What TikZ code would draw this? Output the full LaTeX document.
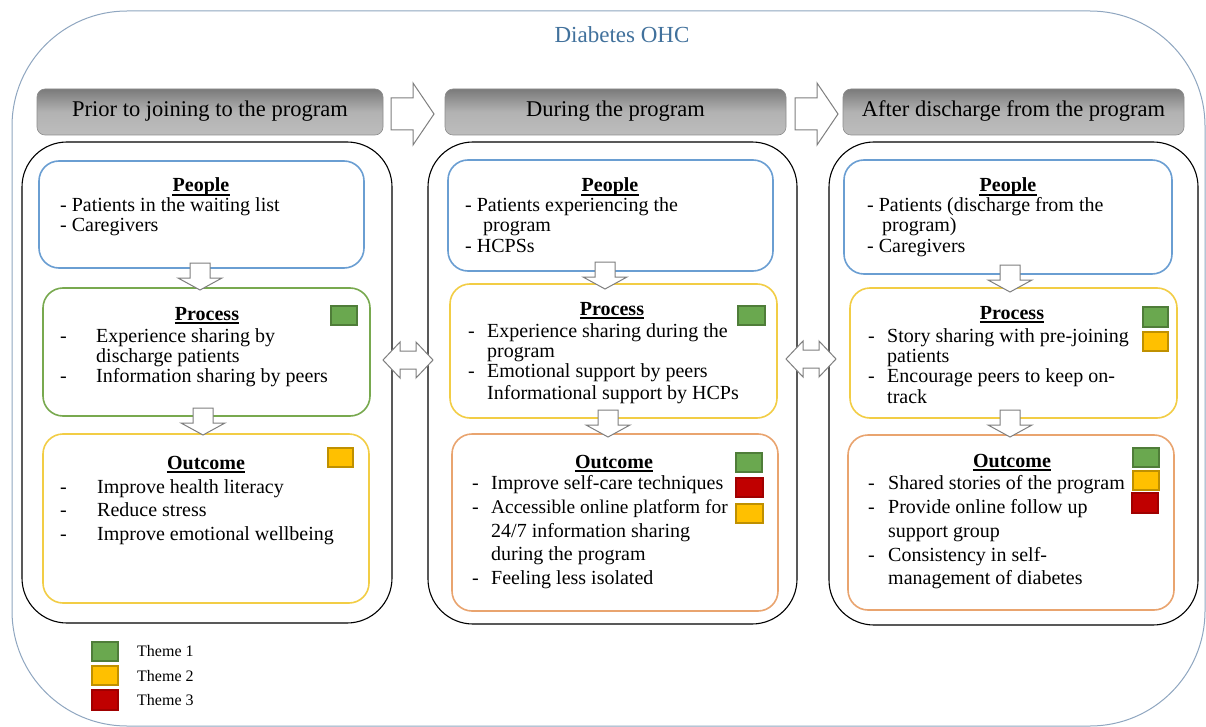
\documentclass[tikz,border=0pt]{standalone}
\usepackage{fontspec}
\setmainfont{Liberation Serif}
\definecolor{frameblue}{HTML}{8FA6C0}
\definecolor{titleblue}{HTML}{41719C}
\definecolor{pblue}{HTML}{6A9ED2}
\definecolor{pgreen}{HTML}{78A94F}
\definecolor{pyellow}{HTML}{F2CD45}
\definecolor{porange}{HTML}{E9A46F}
\definecolor{tgreen}{HTML}{6AA84F}
\definecolor{tgreenb}{HTML}{4F7D39}
\definecolor{tyellow}{HTML}{FFC000}
\definecolor{tyellowb}{HTML}{BF9000}
\definecolor{tred}{HTML}{C00000}
\definecolor{tredb}{HTML}{A00000}
\definecolor{arrgray}{HTML}{7F7F7F}
\tikzset{
  ibox/.style={rounded corners=20pt, line width=1.6pt, fill=white},
  colbox/.style={draw=black, rounded corners=45pt, line width=1.1pt, fill=white},
  hdrbar/.style={rounded corners=8pt, top color=black!52, bottom color=black!26, middle color=black!30, draw=black!45, line width=0.6pt},
  hdrtxt/.style={font=\fontsize{22.5}{26}\selectfont, anchor=base, inner sep=0},
  txt/.style={font=\fontsize{20}{24}\selectfont, anchor=base west, inner sep=0},
  ttl/.style={font=\fontsize{20}{24}\selectfont\bfseries, anchor=base, inner sep=0},
  uline/.style={line width=1.1pt, black},
  sqg/.style={fill=tgreen, draw=tgreenb, line width=1.2pt},
  sqy/.style={fill=tyellow, draw=tyellowb, line width=1.2pt},
  sqr/.style={fill=tred, draw=tredb, line width=1.2pt},
  blk/.style={draw=arrgray, fill=white, line width=1pt, line join=miter},
  rarrow/.pic={\path[blk] (0,-16) -- (22,-16) -- (22,-31) -- (43,0) -- (22,31) -- (22,16) -- (0,16) -- cycle;},
  darrow/.pic={\path[blk] (-25,0) -- (-8,-18) -- (-8,-9) -- (8,-9) -- (8,-18) -- (25,0) -- (8,18) -- (8,9) -- (-8,9) -- (-8,18) -- cycle;},
  downarrow/.pic={\path[blk] (-10,-27) -- (10,-27) -- (10,-12) -- (22,-12) -- (0,0) -- (-22,-12) -- (-10,-12) -- cycle;},
}
\begin{document}
\begin{tikzpicture}[x=1pt,y=-1pt]
\useasboundingbox (0,0) rectangle (1206,727);
% outer frame
\draw[frameblue, line width=1pt, rounded corners=115pt, fill=white] (12,11) rectangle (1205,726);
\node[font=\fontsize{23}{27}\selectfont, text=titleblue, anchor=base, inner sep=0] (title) at (622,43) {Diabetes OHC};

% headers
\path[hdrbar] (37,89) rectangle (383,135);
\path[hdrbar] (445,89) rectangle (786,135);
\path[hdrbar] (843,89) rectangle (1184,135);
\node[hdrtxt] (h1) at (210,117) {Prior to joining to the program};
\node[hdrtxt] (h2) at (615.5,117) {During the program};
\node[hdrtxt] (h3) at (1013.5,117) {After discharge from the program};

% columns
\path[colbox] (22,142) rectangle (392,623);
\path[colbox] (428,142) rectangle (797,624);
\path[colbox] (829,142) rectangle (1198,625);

% column 1
\path[ibox, draw=pblue] (39,161) rectangle (364,268);
\path[ibox, draw=pgreen] (43,288) rectangle (370,416);
\path[ibox, draw=pyellow] (43,434) rectangle (369,603);
% column 2
\path[ibox, draw=pblue] (448,160) rectangle (773,271);
\path[ibox, draw=pyellow] (450,284) rectangle (777,418);
\path[ibox, draw=porange] (452,434) rectangle (778,611);
% column 3
\path[ibox, draw=pblue] (844,160) rectangle (1172,274);
\path[ibox, draw=pyellow] (850,288) rectangle (1177,418);
\path[ibox, draw=porange] (848,435) rectangle (1174,610);

% column 1 texts
\node[ttl] (c1pt) at (201,192) {People};
\node[txt] (c1p1) at (60,212) {- Patients in the waiting list};
\node[txt] (c1p2) at (60,232) {- Caregivers};
\node[ttl] (c1rt) at (207,320) {Process};
\node[txt] (c1rd1) at (60,342) {-};
\node[txt] (c1r1) at (96,342) {Experience sharing by};
\node[txt] (c1r2) at (96,362) {discharge patients};
\node[txt] (c1rd2) at (60,382) {-};
\node[txt] (c1r3) at (96,382) {Information sharing by peers};
\node[ttl] (c1ot) at (206,469) {Outcome};
\node[txt] (c1od1) at (60,493) {-};
\node[txt] (c1o1) at (97,493) {Improve health literacy};
\node[txt] (c1od2) at (60,516) {-};
\node[txt] (c1o2) at (97,516) {Reduce stress};
\node[txt] (c1od3) at (60,540) {-};
\node[txt] (c1o3) at (97,540) {Improve emotional wellbeing};

% column 2 texts
\node[ttl] (c2pt) at (610,192) {People};
\node[txt] (c2p1) at (465,212) {- Patients experiencing the};
\node[txt] (c2p2) at (483,232) {program};
\node[txt] (c2p3) at (465,252) {- HCPSs};
\node[ttl] (c2rt) at (612,315) {Process};
\node[txt] (c2rd1) at (468,337) {-};
\node[txt] (c2r1) at (487,337) {Experience sharing during the};
\node[txt] (c2r2) at (487,357) {program};
\node[txt] (c2rd2) at (468,377) {-};
\node[txt] (c2r3) at (487,377) {Emotional support by peers};
\node[txt] (c2r4) at (487,399) {Informational support by HCPs};
\node[ttl] (c2ot) at (614,468) {Outcome};
\node[txt] (c2od1) at (472,489) {-};
\node[txt] (c2o1) at (491,489) {Improve self-care techniques};
\node[txt] (c2od2) at (472,513) {-};
\node[txt, font=\fontsize{19.4}{24}\selectfont] (c2o2) at (491,513) {Accessible online platform for};
\node[txt] (c2o3) at (491,537) {24/7 information sharing};
\node[txt] (c2o4) at (491,560) {during the program};
\node[txt] (c2od3) at (472,584) {-};
\node[txt] (c2o5) at (491,584) {Feeling less isolated};

% column 3 texts
\node[ttl] (c3pt) at (1008,192) {People};
\node[txt] (c3p1) at (867,212) {- Patients (discharge from the};
\node[txt] (c3p2) at (882,232) {program)};
\node[txt] (c3p3) at (867,252) {- Caregivers};
\node[ttl] (c3rt) at (1012,319) {Process};
\node[txt] (c3rd1) at (868,342) {-};
\node[txt] (c3r1) at (887,342) {Story sharing with pre-joining};
\node[txt] (c3r2) at (887,362) {patients};
\node[txt] (c3rd2) at (868,382) {-};
\node[txt] (c3r3) at (887,382) {Encourage peers to keep on-};
\node[txt] (c3r4) at (887,403) {track};
\node[ttl] (c3ot) at (1012,467) {Outcome};
\node[txt] (c3od1) at (868,489) {-};
\node[txt] (c3o1) at (888,489) {Shared stories of the program};
\node[txt] (c3od2) at (868,513) {-};
\node[txt] (c3o2) at (888,513) {Provide online follow up};
\node[txt] (c3o3) at (888,537) {support group};
\node[txt] (c3od3) at (868,561) {-};
\node[txt] (c3o4) at (888,561) {Consistency in self-};
\node[txt] (c3o5) at (888,584) {management of diabetes};

% underlines of the titles
\foreach \t in {c1pt,c1rt,c1ot,c2pt,c2rt,c2ot,c3pt,c3rt,c3ot}
  \draw[uline] ([yshift=-3pt]\t.base west) -- ([yshift=-3pt]\t.base east);

% theme squares
\path[sqg] (331,306) rectangle (357,325);
\path[sqy] (328,448) rectangle (353,467);
\path[sqg] (738,306) rectangle (765,325);
\path[sqg] (736,453) rectangle (762,472);
\path[sqr] (736,478) rectangle (763,497);
\path[sqy] (736,504) rectangle (763,523);
\path[sqg] (1143,307) rectangle (1168,327);
\path[sqy] (1143,332) rectangle (1168,351);
\path[sqg] (1133,448) rectangle (1159,467);
\path[sqy] (1133,471) rectangle (1159,490);
\path[sqr] (1132,493) rectangle (1158,513);

% legend
\path[sqg] (92,642) rectangle (118,661);
\path[sqy] (92,666) rectangle (118,685);
\path[sqr] (92,690) rectangle (118,710);
\node[font=\fontsize{16}{19}\selectfont, anchor=base west, inner sep=0] (l1) at (137,656) {Theme 1};
\node[font=\fontsize{16}{19}\selectfont, anchor=base west, inner sep=0] (l2) at (137,681) {Theme 2};
\node[font=\fontsize{16}{19}\selectfont, anchor=base west, inner sep=0] (l3) at (137,705) {Theme 3};

% arrows
\pic at (391,114) {rarrow};
\pic at (795,114) {rarrow};
\pic at (408,360) {darrow};
\pic at (811,359) {darrow};
\pic at (200,290) {downarrow};
\pic at (203,435) {downarrow};
\pic at (605,289) {downarrow};
\pic at (608,437) {downarrow};
\pic at (1010,292) {downarrow};
\pic at (1010,437) {downarrow};
\end{tikzpicture}
\end{document}
